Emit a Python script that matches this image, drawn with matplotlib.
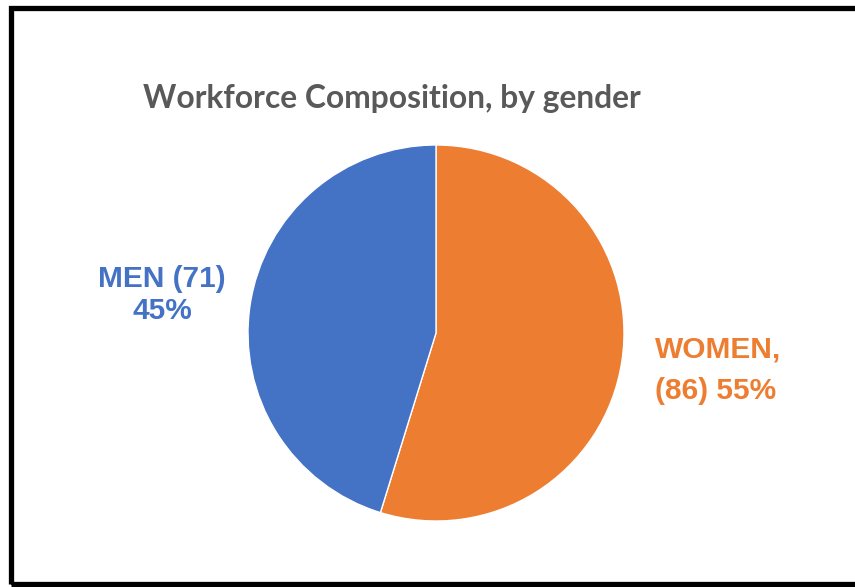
import matplotlib.pyplot as plt
from matplotlib.patches import Rectangle

W, H = 855, 587

# data
groups = ['WOMEN', 'MEN']
counts = [86, 71]
colors = ['#ED7D31', '#4472C4']
title = 'Workforce Composition, by gender'

total = sum(counts)
pcts = [round(100 * c / total) for c in counts]

fig = plt.figure(figsize=(W / 100, H / 100), dpi=100)
fig.patch.set_facecolor('white')

def fx(px):
    return px / W

def fy(py):
    return 1 - py / H

# black frame (right side cut off in the reference)
fig.add_artist(Rectangle((fx(10.5), fy(584)), fx(870) - fx(10.5), fy(7.5) - fy(584),
                         transform=fig.transFigure, fill=False,
                         edgecolor='black', linewidth=3.8))

# pie
cx, cy, r = 436, 333, 188
ax = fig.add_axes([fx(cx - r), fy(cy + r), 2 * r / W, 2 * r / H])
ax.pie(counts, colors=colors, startangle=90, counterclock=False, radius=1,
       wedgeprops=dict(edgecolor='white', linewidth=1))
ax.set_xlim(-1, 1)
ax.set_ylim(-1, 1)
ax.set_aspect('auto')
ax.axis('off')

fig.text(fx(392), fy(108), title, ha='center', va='baseline',
         fontsize=22.9, fontweight='bold', color='#595959', family='Lato')

lab = dict(fontsize=21.5, fontweight='bold', family='Liberation Sans', va='center')
# women label, left aligned
fig.text(fx(655), fy(349), f'{groups[0]},', ha='left', color=colors[0], **lab)
fig.text(fx(655), fy(391), f'({counts[0]}) {pcts[0]}%', ha='left', color=colors[0], **lab)
# men label, centered
fig.text(fx(162), fy(279), f'{groups[1]} ({counts[1]})', ha='center', color=colors[1], **lab)
fig.text(fx(162), fy(311), f'{pcts[1]}%', ha='center', color=colors[1], **lab)

fig.savefig('out.png', dpi=100)
